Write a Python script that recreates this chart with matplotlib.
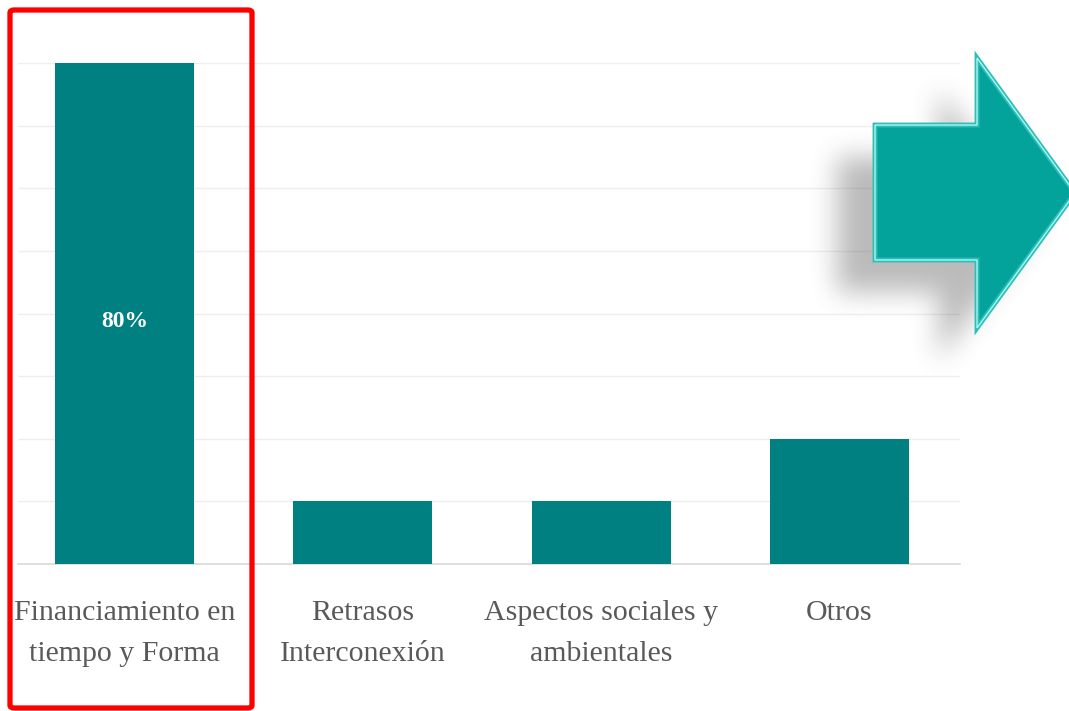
import numpy as np
import matplotlib
matplotlib.use("Agg")
import matplotlib.pyplot as plt
from matplotlib.patches import Polygon, FancyBboxPatch
from matplotlib.path import Path

# chart data
categories = ["Financiamiento en\ntiempo y Forma", "Retrasos\nInterconexión",
              "Aspectos sociales y\nambientales", "Otros"]
values = [80, 10, 10, 20]
grid_levels = [10, 20, 30, 40, 50, 60, 70, 80]

W, H = 1069, 711
BAR_COLOR = "#008080"
TEXT_COLOR = "#595959"

fig = plt.figure(figsize=(W / 100, H / 100), dpi=100)
fig.patch.set_facecolor("white")


def fx(px):
    return px / W


def fy(py):
    return 1 - py / H


ax = fig.add_axes([fx(18), fy(564), fx(960) - fx(18), fy(63) - fy(564)])
x = np.arange(len(categories))
bars = ax.bar(x, values, width=0.583, color=BAR_COLOR, zorder=3)
ax.set_xlim(-0.447, 3.506)
ax.set_ylim(0, 80)

# gridlines
ax.set_yticks(grid_levels)
ax.yaxis.grid(True, color="#eeeeee", linewidth=1.0)
ax.set_axisbelow(True)
ax.tick_params(axis="y", length=0, labelleft=False)
for s in ["top", "right", "left"]:
    ax.spines[s].set_visible(False)
ax.spines["bottom"].set_color("#d9d9d9")
ax.spines["bottom"].set_linewidth(1.2)

ax.set_xticks(x)
ax.set_xticklabels(categories, fontsize=21.5, color=TEXT_COLOR,
                   family="Liberation Serif", linespacing=1.75)
ax.tick_params(axis="x", length=0, pad=26)

# value label on first bar
ax.annotate(f"{values[0]}%", xy=(x[0], values[0] / 2), xytext=(0, -6),
            textcoords="offset points", ha="center", va="center",
            color="white", fontsize=17, fontweight="bold",
            family="Liberation Serif", zorder=4)

# red highlight box around the first category
box = FancyBboxPatch((fx(10), fy(708)), fx(252) - fx(10), fy(10) - fy(708),
                     boxstyle="round,pad=0,rounding_size=0.004",
                     transform=fig.transFigure, fill=False,
                     edgecolor="#ff0000", linewidth=3.8, zorder=5)
fig.patches.append(box)

# block arrow (pixel coords, y down)
arrow_px = np.array([(875, 125), (977, 125), (977, 58), (1075, 193),
                     (977, 328), (977, 260), (875, 260)], dtype=float)

# soft drop shadow
x0, y0, x1, y1 = 740, 10, W, 450
gx, gy = np.meshgrid(np.arange(x0, x1) + 0.5, np.arange(y0, y1) + 0.5)
shadow_path = Path(arrow_px + np.array([-38, 32]))
mask = shadow_path.contains_points(np.c_[gx.ravel(), gy.ravel()]).reshape(gx.shape)
mask = mask.astype(float)


def box_blur(a, r, axis):
    pad = [(0, 0), (0, 0)]
    pad[axis] = (r + 1, r)
    c = np.cumsum(np.pad(a, pad), axis=axis)
    n = a.shape[axis]
    hi = np.take(c, np.arange(2 * r + 1, 2 * r + 1 + n), axis=axis)
    lo = np.take(c, np.arange(0, n), axis=axis)
    return (hi - lo) / (2 * r + 1)


for _ in range(3):
    mask = box_blur(mask, 12, 0)
    mask = box_blur(mask, 12, 1)

rgba = np.zeros(mask.shape + (4,))
rgba[..., :3] = 0.3
rgba[..., 3] = np.clip(mask * 0.38, 0, 1)
im = fig.figimage(rgba, xo=x0, yo=H - y1, origin="upper", zorder=6)

arrow_fig = np.c_[arrow_px[:, 0] / W, 1 - arrow_px[:, 1] / H]
fig.patches.append(Polygon(arrow_fig, closed=True, transform=fig.transFigure,
                           facecolor="#03a29b", edgecolor="#2fbdb7",
                           linewidth=3.5, joinstyle="miter", zorder=7))
fig.patches.append(Polygon(arrow_fig, closed=True, transform=fig.transFigure,
                           fill=False, edgecolor="#a8f7f3",
                           linewidth=1.0, joinstyle="miter", zorder=8))

fig.savefig("out.png", dpi=100)
